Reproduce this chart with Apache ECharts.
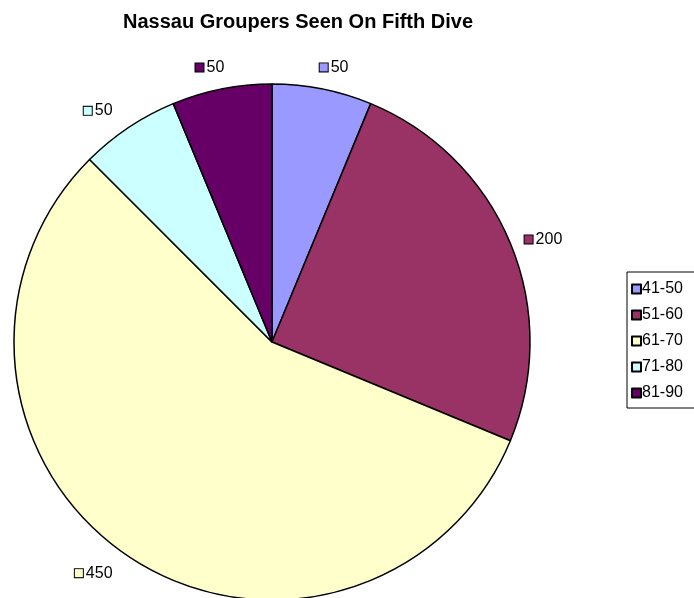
<!DOCTYPE html>
<html>
<head>
    <meta charset="utf-8">
    <title>Nassau Groupers</title>
    <script src="https://cdn.jsdelivr.net/npm/echarts@6/dist/echarts.min.js"></script>
    <style>
        html, body { margin: 0; padding: 0; background: #fff; }
        #chart { width: 694px; height: 598px; }
    </style>
</head>
<body>
    <div id="chart"></div>
    <script type="text/javascript">
        var categories = ['41-50', '51-60', '61-70', '71-80', '81-90'];
        var counts = [50, 200, 450, 50, 50];
        var colors = ['#9999FF', '#993366', '#FFFFCC', '#CCFFFF', '#660066'];

        var rich = {
            v: { fontSize: 16, color: '#000', fontFamily: 'Liberation Sans', padding: [0, 0, 0, 3] }
        };
        var data = [];
        for (var i = 0; i < categories.length; i++) {
            rich['s' + i] = {
                width: 8, height: 8,
                backgroundColor: colors[i],
                borderColor: '#000', borderWidth: 1
            };
            data.push({
                name: categories[i],
                value: counts[i],
                itemStyle: { color: colors[i] },
                labelLine: { length: i === 1 ? 10 : (i === 0 || i === 4 ? 22 : 20) }
            });
        }

        var pie = echarts.init(document.getElementById('chart'));
        var option = {
            animation: false,
            title: {
                text: 'Nassau Groupers Seen On Fifth Dive',
                left: 293,
                textAlign: 'center',
                top: 7,
                textStyle: { fontFamily: 'Liberation Sans', fontWeight: 'bold', fontSize: 20, color: '#000' }
            },
            legend: {
                orient: 'vertical',
                left: 627,
                top: 272,
                padding: [8, 40, 6, 4],
                borderColor: '#000',
                borderWidth: 1,
                itemWidth: 9,
                itemHeight: 9,
                itemGap: 8,
                icon: 'rect',
                textStyle: { fontFamily: 'Liberation Sans', fontSize: 16, color: '#000', padding: [0, 0, 0, -4], lineHeight: 18 },
                data: categories
            },
            series: [{
                type: 'pie',
                center: [272, 342],
                radius: [0, 258],
                startAngle: 90,
                clockwise: true,
                avoidLabelOverlap: false,
                itemStyle: { borderColor: '#000', borderWidth: 1.5 },
                emphasis: { disabled: true },
                label: {
                    show: true,
                    position: 'outside',
                    formatter: function (p) { return '{s' + p.dataIndex + '|}{v|' + p.value + '}'; },
                    rich: rich
                },
                labelLine: { show: false, length: 20, length2: 0 },
                // labels right above the pie sit more or less centred over their slice
                labelLayout: function (p) {
                    if (p.dataIndex === 0) return { dx: -p.labelRect.width * 0.4 };
                    if (p.dataIndex === 4) return { dx: p.labelRect.width * 0.4 };
                    return {};
                },
                data: data
            }]
        };
        pie.setOption(option);
    </script>
</body>
</html>
